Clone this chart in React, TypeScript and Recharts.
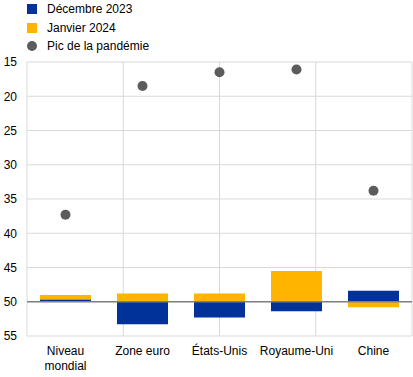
import { ComposedChart, Bar, Scatter, XAxis, YAxis, CartesianGrid, ReferenceLine } from "recharts";

const regions = ["Niveau mondial", "Zone euro", "États-Unis", "Royaume-Uni", "Chine"];
const dec2023 = [49.7, 53.3, 52.3, 51.4, 48.4];
const jan2024 = [49.0, 48.8, 48.8, 45.5, 50.8];
const pandemicPeak = [37.3, 18.5, 16.5, 16.1, 33.8];
const yTicks = [15, 20, 25, 30, 35, 40, 45, 50, 55];
const gridTicks = [0, 1, 2, 3, 4, 5];
const baseline = 50;

const BLUE = "#003299";
const ORANGE = "#ffb400";
const GREY = "#5c5c5c";
const FONT = "'Liberation Sans', Arial, sans-serif";

const data = regions.map((name, i) => ({
  name,
  dec: [baseline, dec2023[i]],
  jan: [baseline, jan2024[i]],
  peak: pandemicPeak[i],
}));

const CategoryTick = (props: any) => {
  const { x, y, payload } = props;
  const lines = payload.value === "Niveau mondial" ? ["Niveau", "mondial"] : [payload.value];
  return (
    <text x={x} y={y} textAnchor="middle" fill="#000" fontSize={12} fontFamily={FONT}>
      {lines.map((l: string, i: number) => (
        <tspan key={i} x={x} dy={i === 0 ? 11 : 15}>
          {l}
        </tspan>
      ))}
    </text>
  );
};

const legendItems = [
  { label: "Décembre 2023", color: BLUE, shape: "square" },
  { label: "Janvier 2024", color: ORANGE, shape: "square" },
  { label: "Pic de la pandémie", color: GREY, shape: "circle" },
];

export default function App() {
  return (
    <div style={{ position: "absolute", left: 0, top: 0, width: 413, height: 377, background: "#fff", fontFamily: FONT }}>
      <div style={{ position: "absolute", left: 27, top: 0, zIndex: 1 }}>
        {legendItems.map((it) => (
          <div key={it.label} style={{ display: "flex", alignItems: "center", height: 18.5, fontSize: 12, color: "#000" }}>
            <span
              style={{
                display: "inline-block",
                width: 10,
                height: 10,
                background: it.color,
                borderRadius: it.shape === "circle" ? "50%" : 0,
                marginRight: 10,
              }}
            />
            {it.label}
          </div>
        ))}
      </div>
      <ComposedChart
        width={413}
        height={377}
        data={data}
        margin={{ top: 62, right: 1, bottom: 5, left: 0 }}
        barSize={51}
        barGap={-51}
      >
        <XAxis xAxisId="grid" type="number" domain={[0, 5]} ticks={gridTicks} hide />
        <CartesianGrid xAxisId="grid" stroke="#d9d9d9" strokeWidth={1} />
        <XAxis
          dataKey="name"
          interval={0}
          axisLine={false}
          tickLine={false}
          height={36}
          tick={<CategoryTick />}
        />
        <YAxis
          reversed
          domain={[15, 55]}
          ticks={yTicks}
          interval={0}
          width={27}
          axisLine={false}
          tickLine={false}
          tickMargin={4}
          tick={{ fill: "#000", fontSize: 12, fontFamily: FONT }}
        />
        <Bar dataKey="jan" fill={ORANGE} isAnimationActive={false} />
        <Bar dataKey="dec" fill={BLUE} isAnimationActive={false} />
        <ReferenceLine y={baseline} stroke="#808080" strokeWidth={1.5} />
        <Scatter dataKey="peak" fill={GREY} isAnimationActive={false} shape={(p: any) => <circle cx={p.cx} cy={p.cy} r={5} fill={GREY} />} />
      </ComposedChart>
    </div>
  );
}
